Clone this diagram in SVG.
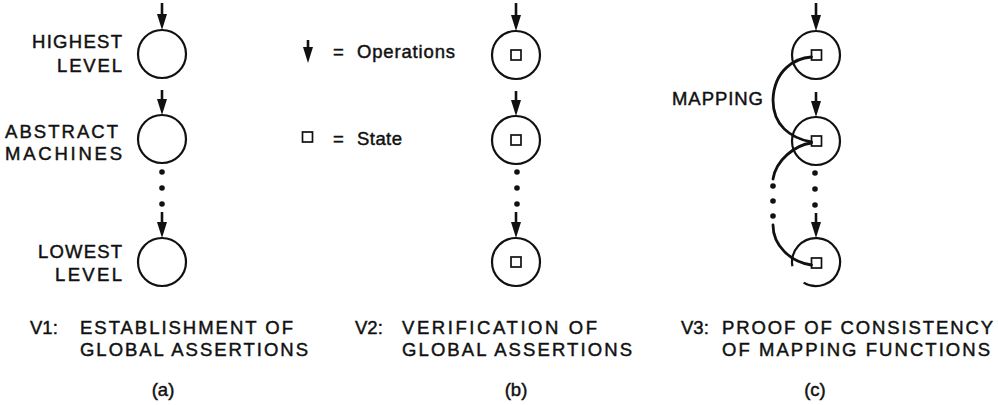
<svg xmlns="http://www.w3.org/2000/svg" width="998" height="405" viewBox="0 0 998 405">
<style>
text{font-family:"Liberation Sans",Arial,sans-serif;font-size:18.5px;fill:#111;stroke:#111;stroke-width:0.45px;}
.c{fill:none;stroke:#111;stroke-width:2.2;}
.sq{fill:#fff;stroke:#111;stroke-width:1.7;}
.op{stroke:#111;stroke-width:2.6;fill:none;}
.map{stroke:#111;stroke-width:2.8;fill:none;stroke-linecap:round;}
.dot{fill:#111;}
</style>
<defs>
<marker id="ah" viewBox="0 0 16 10" markerWidth="16" markerHeight="10" refX="7" refY="5" orient="auto" markerUnits="userSpaceOnUse">
<path d="M0,0 L16,5 L0,10 z" fill="#111"/>
</marker>
</defs>

<!-- Panel (a) nodes -->
<g id="a-highest">
<circle class="c" cx="162" cy="54" r="24"/>
<text x="32" y="48" textLength="90" lengthAdjust="spacing">HIGHEST</text>
<text x="57" y="72" textLength="65" lengthAdjust="spacing">LEVEL</text>
</g>
<g id="a-abstract">
<circle class="c" cx="162" cy="139" r="24"/>
<text x="5" y="138" textLength="113" lengthAdjust="spacing">ABSTRACT</text>
<text x="5" y="160" textLength="117" lengthAdjust="spacing">MACHINES</text>
</g>
<g id="a-lowest">
<circle class="c" cx="162" cy="262" r="24"/>
<text x="38" y="258" textLength="84" lengthAdjust="spacing">LOWEST</text>
<text x="55" y="281" textLength="67" lengthAdjust="spacing">LEVEL</text>
</g>
<g id="a-caption">
<text x="30" y="334">V1:</text>
<text x="80" y="334" textLength="213" lengthAdjust="spacing">ESTABLISHMENT OF</text>
<text x="80" y="356" textLength="228" lengthAdjust="spacing">GLOBAL ASSERTIONS</text>
<text x="163" y="396" text-anchor="middle">(a)</text>
</g>

<!-- Legend -->
<g id="legend">
<line class="op" x1="308" y1="40" x2="308" y2="54" marker-end="url(#ah)"/>
<text x="333" y="58">=</text>
<text x="357" y="58" textLength="98" lengthAdjust="spacing">Operations</text>
<rect class="sq" x="302.5" y="132" width="10" height="10"/>
<text x="333" y="145">=</text>
<text x="357" y="145" textLength="45" lengthAdjust="spacing">State</text>
</g>

<!-- Panel (b) nodes -->
<g id="b-top">
<circle class="c" cx="516" cy="55" r="24"/>
<rect class="sq" x="511" y="50" width="10" height="10"/>
</g>
<g id="b-mid">
<circle class="c" cx="516" cy="140" r="24"/>
<rect class="sq" x="511" y="135" width="10" height="10"/>
</g>
<g id="b-low">
<circle class="c" cx="516" cy="262" r="24"/>
<rect class="sq" x="511" y="257" width="10" height="10"/>
</g>
<g id="b-caption">
<text x="355" y="334">V2:</text>
<text x="402" y="334" textLength="195" lengthAdjust="spacing">VERIFICATION OF</text>
<text x="402" y="356" textLength="230" lengthAdjust="spacing">GLOBAL ASSERTIONS</text>
<text x="516" y="396" text-anchor="middle">(b)</text>
</g>

<!-- Panel (c) nodes -->
<g id="c-top">
<circle class="c" cx="816" cy="55" r="24"/>
<rect class="sq" x="811.5" y="50" width="10" height="10"/>
</g>
<g id="c-mid">
<circle class="c" cx="816" cy="141" r="24"/>
<rect class="sq" x="811.5" y="136" width="10" height="10"/>
</g>
<g id="c-low">
<path class="c" d="M792.4,266.2 A24,24 0 1 1 803.6,282.6"/>
<rect class="sq" x="811.5" y="258" width="10" height="10"/>
</g>
<g id="c-caption">
<text x="681" y="334">V3:</text>
<text x="722" y="334" textLength="271" lengthAdjust="spacing">PROOF OF CONSISTENCY</text>
<text x="722" y="356" textLength="268" lengthAdjust="spacing">OF MAPPING FUNCTIONS</text>
<text x="815" y="396" text-anchor="middle">(c)</text>
</g>

<!-- Connectors -->
<g id="connectors">
<!-- panel a -->
<line class="op" x1="162" y1="3" x2="162" y2="21" marker-end="url(#ah)"/>
<line class="op" x1="162" y1="90" x2="162" y2="106" marker-end="url(#ah)"/>
<line class="op" x1="162" y1="212" x2="162" y2="229" marker-end="url(#ah)"/>
<circle class="dot" cx="162" cy="172" r="2.8"/>
<circle class="dot" cx="162" cy="188" r="2.8"/>
<circle class="dot" cx="162" cy="204" r="2.8"/>
<!-- panel b -->
<line class="op" x1="516" y1="3" x2="516" y2="22" marker-end="url(#ah)"/>
<line class="op" x1="516" y1="91" x2="516" y2="107" marker-end="url(#ah)"/>
<line class="op" x1="516" y1="212" x2="516" y2="229" marker-end="url(#ah)"/>
<circle class="dot" cx="517" cy="172" r="2.8"/>
<circle class="dot" cx="517" cy="188" r="2.8"/>
<circle class="dot" cx="517" cy="204" r="2.8"/>
<!-- panel c -->
<line class="op" x1="816" y1="3" x2="816" y2="22" marker-end="url(#ah)"/>
<line class="op" x1="816" y1="92" x2="816" y2="108" marker-end="url(#ah)"/>
<line class="op" x1="816" y1="213" x2="816" y2="229" marker-end="url(#ah)"/>
<circle class="dot" cx="815" cy="173" r="2.8"/>
<circle class="dot" cx="815" cy="189" r="2.8"/>
<circle class="dot" cx="815" cy="205" r="2.8"/>
<path class="map" d="M811.5,57 C795,58 774,70 773,100 C773,125 790,138 811.5,142"/>
<path class="map" d="M811.5,143 C795,145 776,160 773,179"/>
<circle class="dot" cx="773" cy="186" r="2.8"/>
<circle class="dot" cx="773" cy="201" r="2.8"/>
<circle class="dot" cx="773" cy="216" r="2.8"/>
<path class="map" d="M773,225 C773,245 790,262 811.5,265"/>
<text x="672" y="105" textLength="91" lengthAdjust="spacing">MAPPING</text>
</g>
</svg>
